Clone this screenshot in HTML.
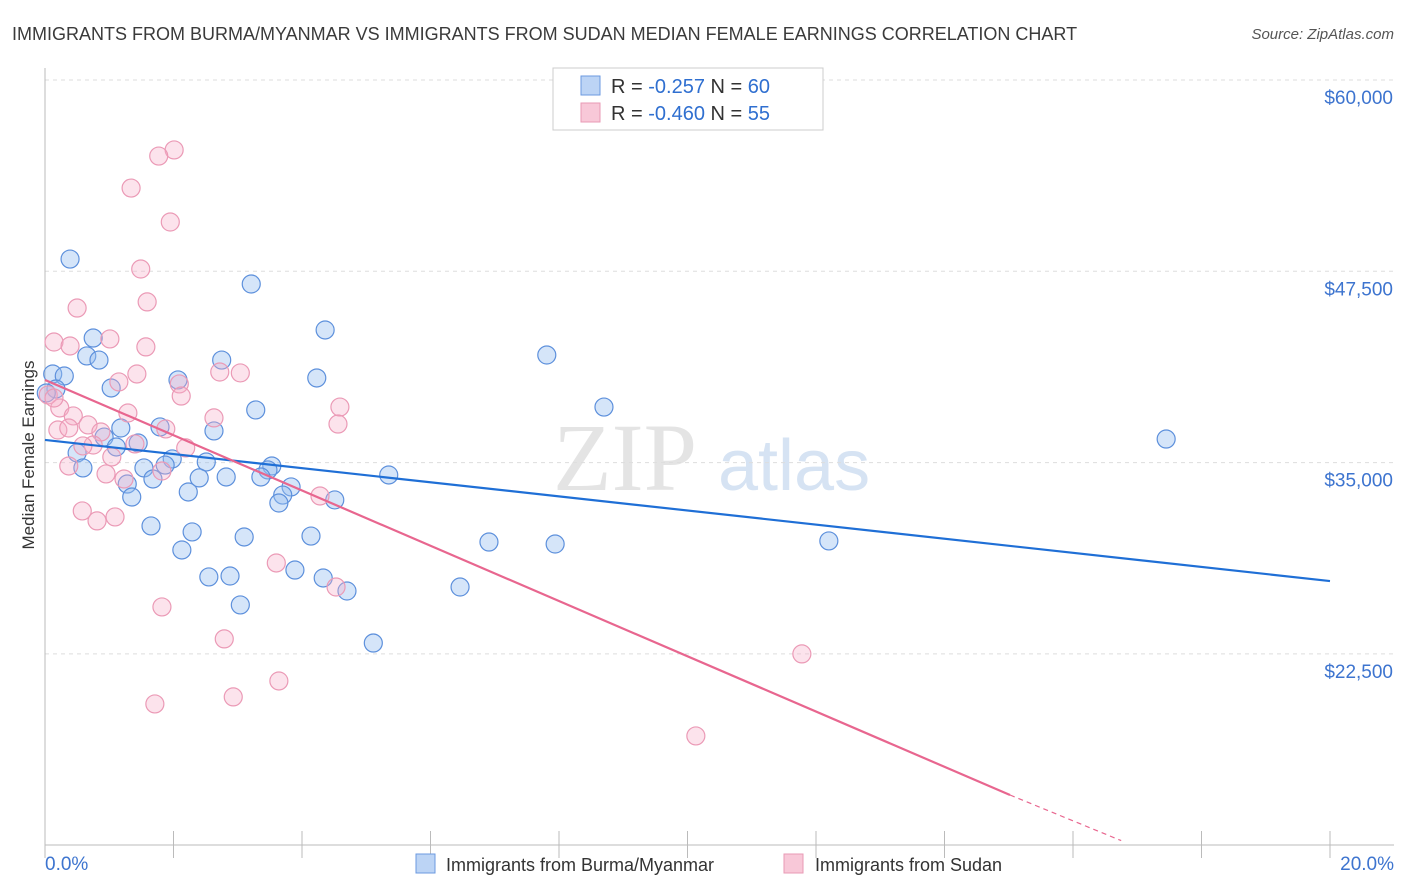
<!DOCTYPE html>
<html><head><meta charset="utf-8"><style>
body{margin:0;background:#fff;font-family:"Liberation Sans",sans-serif;}
</style></head><body>
<svg id="chart" width="1406" height="892" xmlns="http://www.w3.org/2000/svg" style="display:block">
<text x="12" y="40" font-size="18" fill="#3a3a3a">IMMIGRANTS FROM BURMA/MYANMAR VS IMMIGRANTS FROM SUDAN MEDIAN FEMALE EARNINGS CORRELATION CHART</text>
<text x="1394" y="39" font-size="15" fill="#555" text-anchor="end" font-style="italic">Source: ZipAtlas.com</text>
<g><text x="553" y="490" font-size="96" fill="#e4e4e4" font-family="Liberation Serif">ZIP</text><text x="718" y="490" font-size="72" fill="#d6e3f3">atlas</text></g>
<text transform="translate(34,455) rotate(-90)" font-size="17" fill="#333" text-anchor="middle">Median Female Earnings</text>
<g id="grid"></g><g id="axes"></g><g id="pts"></g><g id="lines"></g>
<g>
<rect x="553" y="68" width="270" height="62" fill="#fff" stroke="#ccc"/>
<rect x="581" y="76" width="19" height="19" fill="#bcd4f5" stroke="#6b9ae0"/>
<text x="611" y="93" font-size="20" fill="#333">R = <tspan fill="#2f6fd0">-0.257</tspan>   N = <tspan fill="#2f6fd0">60</tspan></text>
<rect x="581" y="103" width="19" height="19" fill="#f8c8d8" stroke="#e89ab5"/>
<text x="611" y="120" font-size="20" fill="#333">R = <tspan fill="#2f6fd0">-0.460</tspan>   N = <tspan fill="#2f6fd0">55</tspan></text>
</g>
<g>
<rect x="416" y="854" width="19" height="19" fill="#bcd4f5" stroke="#6b9ae0"/>
<text x="446" y="871" font-size="18" fill="#333">Immigrants from Burma/Myanmar</text>
<rect x="784" y="854" width="19" height="19" fill="#f8c8d8" stroke="#e89ab5"/>
<text x="815" y="871" font-size="18" fill="#333">Immigrants from Sudan</text>
</g>
</svg>
<script>
const yTicks=[60000,47500,35000,22500];
const yTickLabels=["$60,000","$47,500","$35,000","$22,500"];
const xTickLabels=["0.0%","20.0%"];
const blueX=[0.39,3.21,4.36,0.75,0.65,0.84,7.81,2.75,0.12,0.30,2.07,4.23,1.03,0.17,0.02,3.28,8.70,1.18,1.79,2.63,0.92,1.45,1.11,0.50,1.98,2.51,1.87,1.54,3.53,3.47,0.59,5.35,17.45,2.40,2.82,3.36,1.68,1.28,3.83,3.70,2.23,4.51,3.64,1.35,1.65,2.29,4.14,3.10,2.13,6.91,7.94,12.20,3.89,2.55,2.88,4.33,4.70,6.46,3.04,5.11];
const blueY=[48300,46670,43665,43140,41970,41700,42030,41700,40790,40660,40400,40530,39875,39810,39550,38440,38630,37260,37330,37070,36670,36280,36020,35630,35240,35040,34840,34650,34780,34520,34650,34190,36540,34000,34060,34060,33930,33600,33410,32880,33080,32560,32360,32750,30860,30470,30200,30140,29290,29810,29680,29880,27980,27530,27590,27460,26610,26870,25700,23210];
const pinkX=[2.01,1.77,1.34,1.95,1.49,1.59,0.50,0.14,1.01,0.39,1.57,1.43,2.09,2.72,3.04,1.15,2.12,0.23,0.05,0.14,0.44,1.29,2.63,4.59,4.56,0.67,0.87,1.88,0.20,0.37,1.04,2.19,0.75,1.40,0.59,1.82,0.95,1.23,4.28,0.58,1.09,0.81,3.60,1.82,4.53,2.79,11.78,2.93,3.64,1.71,10.13,0.37];
const pinkY=[55430,55030,52940,50720,47650,45500,45100,42880,43080,42620,42560,40790,40140,40920,40860,40270,39350,38570,39420,39220,38050,38240,37920,38630,37520,37460,37000,37200,37130,37260,35370,35960,36150,36220,36090,34450,34260,33930,32820,31840,31450,31190,28440,25570,26870,23480,22500,19690,20730,19230,17140,34780];
const blueTrend=[[0,36480],[20,27260]];
const pinkTrend=[[0,40400],[15.02,13280],[16.75,10300]];
const NS="http://www.w3.org/2000/svg";
const X=p=>45+p/20*1285;
const Y=v=>80+(60000-v)/12500*191.3;
function mk(tag,attrs,parent){const e=document.createElementNS(NS,tag);for(const k in attrs)e.setAttribute(k,attrs[k]);parent.appendChild(e);return e;}
const grid=document.getElementById('grid'),axes=document.getElementById('axes'),pts=document.getElementById('pts'),lines=document.getElementById('lines');
yTicks.forEach((v,i)=>{
 const l=mk('line',{x1:45,x2:1394,y1:Y(v),y2:Y(v),stroke:'#ddd','stroke-dasharray':'4,4'},grid);
 
 
 const t=mk('text',{x:1393,y:Y(v)+24,'font-size':19,fill:'#3d74cf','text-anchor':'end'},grid);
 t.textContent=yTickLabels[i];
 
 
});
const ya=mk('line',{x1:45,x2:45,y1:68,y2:845,stroke:'#bbb'},axes);


const xa=mk('line',{x1:45,x2:1394,y1:845,y2:845,stroke:'#bbb'},axes);


for(let i=0;i<=10;i++){
 const t=mk('line',{x1:X(i*2),x2:X(i*2),y1:831,y2:858,stroke:'#bbb'},axes);
 
 
}
[[0,'start',45],[1,'end',1394]].forEach(([i,a,x])=>{
 const t=mk('text',{x:x,y:870,'font-size':19,fill:'#3d74cf','text-anchor':a},axes);
 t.textContent=xTickLabels[i];
 
 
});
blueX.forEach((x,i)=>{
 const c=mk('circle',{cx:X(x),cy:Y(blueY[i]),r:9,fill:'rgba(150,190,240,0.4)',stroke:'#5d90dc','stroke-width':1.2},pts);
 
 
});
pinkX.forEach((x,i)=>{
 const c=mk('circle',{cx:X(x),cy:Y(pinkY[i]),r:9,fill:'rgba(245,175,200,0.35)',stroke:'#eb9ab6','stroke-width':1.2},pts);
 
 
});
const bl=mk('line',{x1:X(blueTrend[0][0]),y1:Y(blueTrend[0][1]),x2:X(blueTrend[1][0]),y2:Y(blueTrend[1][1]),stroke:'#1f6fd6','stroke-width':2.2},lines);


const pl=mk('line',{x1:X(pinkTrend[0][0]),y1:Y(pinkTrend[0][1]),x2:X(pinkTrend[1][0]),y2:Y(pinkTrend[1][1]),stroke:'#e8668f','stroke-width':2.2},lines);


const pd=mk('line',{x1:X(pinkTrend[1][0]),y1:Y(pinkTrend[1][1]),x2:X(pinkTrend[2][0]),y2:Y(pinkTrend[2][1]),stroke:'#e8668f','stroke-width':1.2,'stroke-dasharray':'5,4'},lines);


</script>
</body></html>
